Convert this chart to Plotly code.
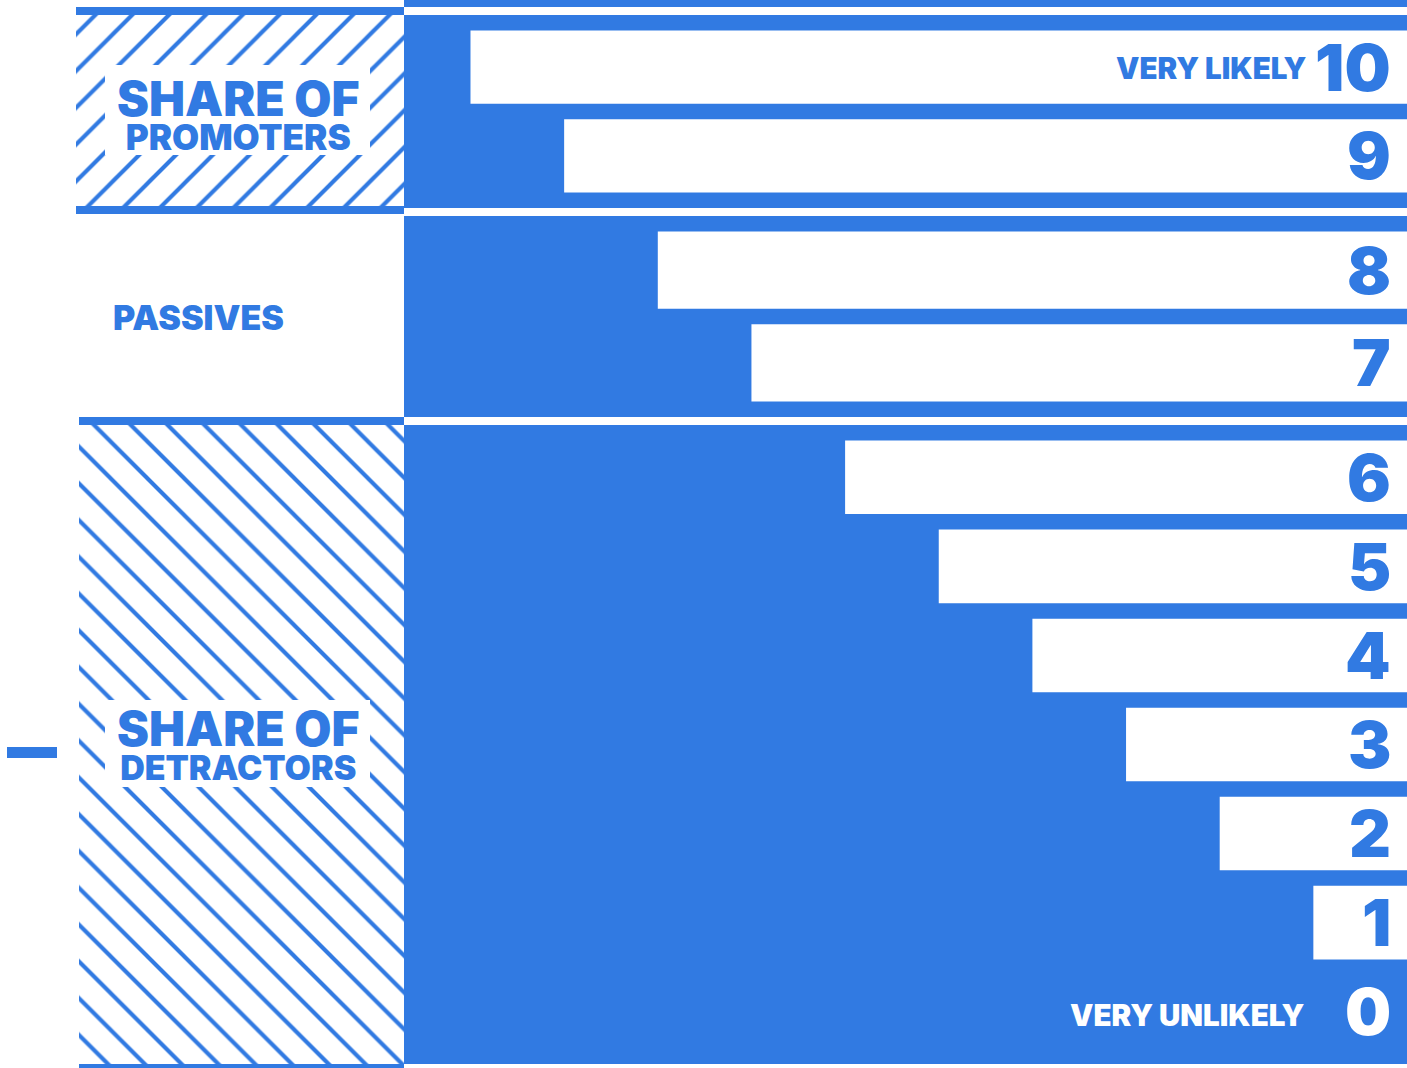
import plotly.graph_objects as go

# ---------------- data ----------------
promoter_scores = [10, 9]
passive_scores = [8, 7]
detractor_scores = [6, 5, 4, 3, 2, 1, 0]
group_title = ["SHARE OF", "PASSIVES", "SHARE OF"]
group_subtitle = ["PROMOTERS", "", "DETRACTORS"]
top_label = "VERY LIKELY"
bottom_label = "VERY UNLIKELY"

# ---------------- style / layout ----------------
W, H = 1407, 1068
BLUE = "#317AE2"
FONT = "Inter"
WEIGHT = 900
LEFT = 404            # px where the scale panel starts
X_MAX = 10.71         # reversed value axis: 0 at right edge
GAP = 15.5            # px gap between bars
BANDS = [(15, 208), (216, 417), (425, 1064)]   # px top/bottom of each group panel
SEP = 8               # separator thickness

groups = [promoter_scores, passive_scores, detractor_scores]

fig = go.Figure()
layout = dict(
    width=W, height=H, margin=dict(l=0, r=0, t=0, b=0),
    paper_bgcolor="white", plot_bgcolor="rgba(0,0,0,0)",
    barmode="overlay", showlegend=False,
)

annotations = []
shapes = []

for i, (scores, (top, bot)) in enumerate(zip(groups, BANDS)):
    n = len(scores)
    pitch = (bot - top - GAP) / n
    ax = "" if i == 0 else str(i + 1)
    cats = [str(s) for s in scores]
    order = cats[::-1]          # bottom -> top
    fig.add_trace(go.Bar(
        x=scores, y=cats, orientation="h",
        marker=dict(color="white", line=dict(width=0)),
        width=1 - GAP / pitch, xaxis="x" + ax, yaxis="y" + ax,
        hoverinfo="skip",
    ))
    layout["xaxis" + ax] = dict(domain=[LEFT / W, 1], range=[X_MAX, 0], visible=False,
                                anchor="y" + ax, fixedrange=True)
    e = GAP / (2 * pitch)
    layout["yaxis" + ax] = dict(domain=[1 - bot / H, 1 - top / H], range=[-0.5 - e, n - 0.5 + e],
                                type="category", categoryorder="array", categoryarray=order,
                                visible=False, anchor="x" + ax, fixedrange=True)
    for s in scores:
        annotations.append(dict(
            x=0, y=order.index(str(s)), xref="x" + ax, yref="y" + ax, text=str(s), showarrow=False,
            xanchor="right", yanchor="middle", xshift=-14, yshift=0,
            font=dict(family=FONT, size=65, weight=WEIGHT, color=BLUE if s > 0 else "white"),
        ))
    if i == 0:
        annotations.append(dict(x=0, y=order.index(str(scores[0])), xref="x", yref="y", text=top_label,
                                showarrow=False, xanchor="right", yanchor="middle", xshift=-98, yshift=-1,
                                font=dict(family=FONT, size=29.5, weight=WEIGHT, color=BLUE)))
    if i == 2:
        annotations.append(dict(x=0, y=order.index(str(scores[-1])), xref="x3", yref="y3", text=bottom_label,
                                showarrow=False, xanchor="right", yanchor="middle", xshift=-100, yshift=-3,
                                font=dict(family=FONT, size=29.5, weight=WEIGHT, color="white")))

# left decoration panel axes (pixel units)
layout["xaxis4"] = dict(domain=[0, LEFT / W], range=[0, LEFT], visible=False, anchor="y4", fixedrange=True)
layout["yaxis4"] = dict(domain=[0, 1], range=[H, 0], visible=False, anchor="x4", fixedrange=True)

# hatched boxes for promoters and detractors
box_x = [(76, LEFT), (79, LEFT)]
box_y = [(BANDS[0][0] - SEP, BANDS[0][1] + 6), (BANDS[2][0] - SEP, BANDS[2][1] + SEP)]
fig.add_trace(go.Bar(
    x=[(a + b) / 2 for a, b in box_x], width=[b - a for a, b in box_x],
    base=[a for a, b in box_y], y=[b - a for a, b in box_y],
    marker=dict(color="white", line=dict(width=0),
                pattern=dict(shape=["/", "\\"], fgcolor=BLUE, bgcolor="white",
                             size=26, solidity=0.16, fillmode="replace")),
    xaxis="x4", yaxis="y4", hoverinfo="skip",
))

# blue panel background
shapes.append(dict(type="rect", xref="paper", yref="paper", x0=LEFT / W, x1=1, y0=0, y1=1,
                   fillcolor=BLUE, line=dict(width=0), layer="below"))
# white separators across the blue panel
for t in [b[0] - SEP for b in BANDS] + [BANDS[-1][1]]:
    shapes.append(dict(type="rect", xref="paper", yref="y4", x0=LEFT / W, x1=1, y0=t, y1=t + SEP,
                       fillcolor="white", line=dict(width=0), layer="above"))
# blue borders of hatched boxes
for (x0, x1), (y0, y1) in zip(box_x, box_y):
    for t in (y0, y1 - SEP):
        shapes.append(dict(type="rect", xref="x4", yref="y4", x0=x0, x1=x1, y0=t, y1=t + SEP,
                           fillcolor=BLUE, line=dict(width=0), layer="above"))
# white label plates
for (y0, y1) in [(65, 155), (700, 787)]:
    shapes.append(dict(type="rect", xref="x4", yref="y4", x0=105, x1=370, y0=y0, y1=y1,
                       fillcolor="white", line=dict(width=0), layer="above"))
# minus sign
shapes.append(dict(type="rect", xref="x4", yref="y4", x0=7, x1=57, y0=747, y1=758,
                   fillcolor=BLUE, line=dict(width=0), layer="above"))

# group labels (two sizes in one text block)
for (title, sub, cy, sub_size) in [(group_title[0], group_subtitle[0], 113, 35),
                                   (group_title[2], group_subtitle[2], 743, 34)]:
    annotations.append(dict(
        x=237.5, y=cy, xref="x4", yref="y4", showarrow=False,
        text=(f"<span style='font-size:48px'>{title}</span><br>"
              f"<span style='font-size:{sub_size}px'>{sub}</span>"),
        xanchor="center", yanchor="middle", align="center",
        font=dict(family=FONT, size=26, weight=WEIGHT, color=BLUE)))
annotations.append(dict(x=111, y=317, xref="x4", yref="y4", text=group_title[1], showarrow=False,
                        xanchor="left", yanchor="middle",
                        font=dict(family=FONT, size=34, weight=WEIGHT, color=BLUE)))

layout["annotations"] = annotations
layout["shapes"] = shapes
fig.update_layout(**layout)
fig.write_html("out.html", config={"displayModeBar": False},
               post_script="document.body.style.margin='0';")
